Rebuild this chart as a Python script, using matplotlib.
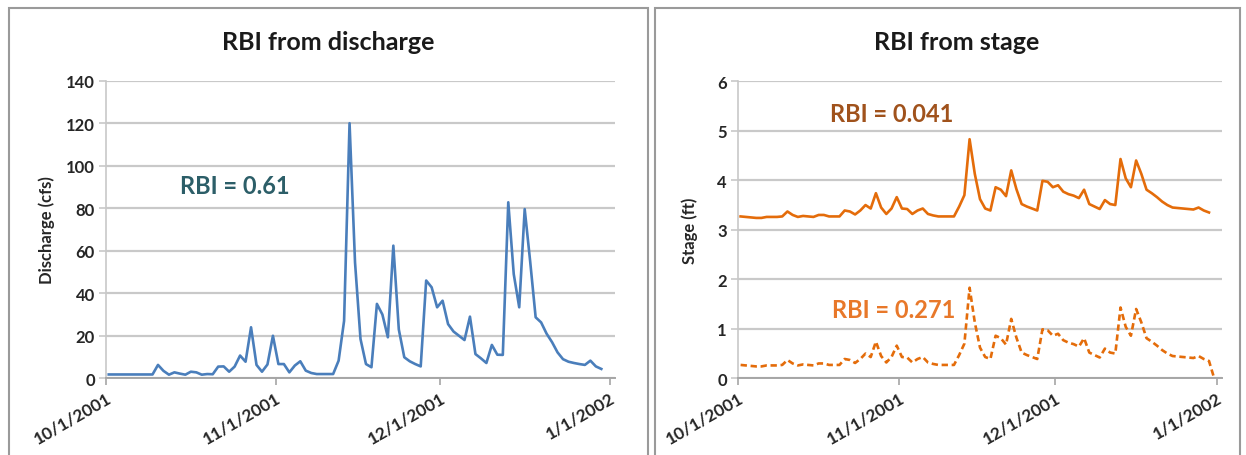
import datetime as dt
import matplotlib
matplotlib.use("Agg")
import matplotlib.pyplot as plt
import matplotlib.dates as mdates
from matplotlib.patches import Rectangle

plt.rcParams["font.family"] = ["Lato", "DejaVu Sans"]

# Daily values starting 10/1/2001
start_date = dt.date(2001, 10, 1)

discharge_cfs = [
    1.8, 1.8, 1.8, 1.8, 1.8, 1.8, 1.8, 1.8, 1.8, 6.3,
    3.5, 1.7, 2.8, 2.2, 1.7, 3.1, 2.8, 1.7, 2.0, 1.9,
    5.5, 5.6, 3.1, 5.5, 10.7, 7.8, 24.0, 6.3, 3.1, 6.5,
    20.0, 6.7, 6.7, 2.8, 6.0, 8.0, 3.6, 2.5, 2.0, 2.0,
    2.0, 2.0, 8.3, 27.0, 120.0, 54.5, 18.5, 6.7, 5.2, 35.0,
    30.0, 19.3, 62.4, 23.0, 9.9, 8.0, 6.7, 5.6, 46.0, 42.8,
    33.4, 36.5, 25.5, 22.0, 20.0, 18.0, 29.0, 11.4, 9.4, 7.2,
    15.7, 11.1, 11.0, 82.8, 49.0, 33.4, 79.6, 55.0, 28.7, 26.3,
    21.0, 17.0, 12.2, 9.0, 7.8, 7.2, 6.7, 6.3, 8.3, 5.6,
    4.4,
]

stage_ft = [
    3.27, 3.26, 3.25, 3.24, 3.24, 3.26, 3.26, 3.26, 3.27, 3.37,
    3.30, 3.26, 3.28, 3.27, 3.26, 3.30, 3.30, 3.27, 3.27, 3.27,
    3.39, 3.37, 3.31, 3.39, 3.50, 3.43, 3.74, 3.45, 3.32, 3.43,
    3.66, 3.43, 3.42, 3.32, 3.39, 3.43, 3.32, 3.29, 3.27, 3.27,
    3.27, 3.27, 3.47, 3.70, 4.83, 4.13, 3.62, 3.43, 3.39, 3.86,
    3.81, 3.68, 4.20, 3.82, 3.52, 3.47, 3.43, 3.39, 3.99, 3.97,
    3.86, 3.90, 3.77, 3.72, 3.69, 3.64, 3.81, 3.52, 3.47, 3.42,
    3.60, 3.52, 3.50, 4.43, 4.04, 3.86, 4.40, 4.13, 3.81, 3.74,
    3.66, 3.57, 3.50, 3.45, 3.44, 3.43, 3.42, 3.41, 3.45, 3.39,
    3.35,
]

# Stage above a 3 ft datum (last day missing -> 0)
stage_above_datum_ft = [
    0.27, 0.26, 0.25, 0.24, 0.24, 0.26, 0.26, 0.26, 0.27, 0.37,
    0.30, 0.26, 0.28, 0.27, 0.26, 0.30, 0.30, 0.27, 0.27, 0.27,
    0.39, 0.37, 0.31, 0.39, 0.50, 0.43, 0.74, 0.45, 0.32, 0.43,
    0.66, 0.43, 0.42, 0.32, 0.39, 0.43, 0.32, 0.29, 0.27, 0.27,
    0.27, 0.27, 0.47, 0.70, 1.83, 1.13, 0.62, 0.43, 0.39, 0.86,
    0.81, 0.68, 1.20, 0.82, 0.52, 0.47, 0.43, 0.39, 0.99, 0.97,
    0.86, 0.90, 0.77, 0.72, 0.69, 0.64, 0.81, 0.52, 0.47, 0.42,
    0.60, 0.52, 0.50, 1.43, 1.04, 0.86, 1.40, 1.13, 0.81, 0.74,
    0.66, 0.57, 0.50, 0.45, 0.44, 0.43, 0.42, 0.41, 0.45, 0.39,
    0.35, 0.0,
]

tick_dates = [dt.date(2001, 10, 1), dt.date(2001, 11, 1),
              dt.date(2001, 12, 1), dt.date(2002, 1, 1)]
tick_labels = ["10/1/2001", "11/1/2001", "12/1/2001", "1/1/2002"]

discharge_ticks = [0, 20, 40, 60, 80, 100, 120, 140]
stage_ticks = [0, 1, 2, 3, 4, 5, 6]

BLUE = "#4a7ebb"
ORANGE = "#e46c0a"
TEXT = "#262626"
GRID = "#c9c9c9"

W, H = 1246, 456
fig = plt.figure(figsize=(W / 100, H / 100), dpi=100)
fig.patch.set_facecolor("white")


def fx(px):
    return px / W


def fy(py):
    return 1 - py / H


def day_positions(n):
    base = mdates.date2num(start_date)
    return [base + i + 0.5 for i in range(n)]


def style_axes(ax, ticks, ylabel, ymax, labelpad):
    ax.set_ylim(0, ymax)
    ax.set_yticks(ticks)
    ax.set_xlim(mdates.date2num(start_date), mdates.date2num(dt.date(2002, 1, 2)))
    ax.set_xticks([mdates.date2num(d) for d in tick_dates])
    ax.set_xticklabels(tick_labels, rotation=30, ha="right", va="top",
                       rotation_mode="anchor", fontsize=12.5,
                       fontweight="bold", color=TEXT)
    for lbl in ax.get_yticklabels():
        lbl.set_fontsize(12)
        lbl.set_fontweight("bold")
        lbl.set_color(TEXT)
    ax.grid(axis="y", color=GRID, linewidth=1.6)
    ax.set_axisbelow(True)
    for s in ("top", "right"):
        ax.spines[s].set_visible(False)
    ax.spines["left"].set_color("#c8c8c8")
    ax.spines["left"].set_linewidth(1.2)
    ax.spines["bottom"].set_color("#a6a6a6")
    ax.spines["bottom"].set_linewidth(1.4)
    ax.tick_params(axis="y", length=5, width=1.2, color="#c8c8c8", pad=3)
    ax.tick_params(axis="x", length=5, width=1.2, color="#a6a6a6", pad=3)
    ax.set_ylabel(ylabel, fontsize=12, fontweight="bold", color=TEXT,
                  labelpad=labelpad)


# Panel frames
for x0, x1 in ((9, 648), (655, 1240)):
    fig.add_artist(Rectangle((fx(x0), fy(470)), fx(x1) - fx(x0), fy(9) - fy(470),
                             transform=fig.transFigure, facecolor="none",
                             edgecolor="#9a9a9a", linewidth=1.5))

# Discharge panel
ax1 = fig.add_axes([fx(106), fy(379.3), fx(615) - fx(106), fy(81.7) - fy(379.3)])
ax1.plot(day_positions(len(discharge_cfs)), discharge_cfs, color=BLUE,
         linewidth=1.9, solid_joinstyle="round")
style_axes(ax1, discharge_ticks, "Discharge (cfs)", 140, 8)
fig.text(fx(235), fy(186), "RBI = 0.61", ha="center", va="center",
         fontsize=17, fontweight="bold", color="#2c5e68")
fig.text(fx(328), fy(42), "RBI from discharge", ha="center", va="center",
         fontsize=18, fontweight="bold", color="#1a1a1a")

# Stage panel
ax2 = fig.add_axes([fx(738), fy(379.3), fx(1222) - fx(738), fy(82.3) - fy(379.3)])
ax2.plot(day_positions(len(stage_ft)), stage_ft, color=ORANGE,
         linewidth=1.9, solid_joinstyle="round")
ax2.plot(day_positions(len(stage_above_datum_ft)), stage_above_datum_ft,
         color=ORANGE, linewidth=1.9, linestyle=(0, (2.4, 1.4)))
style_axes(ax2, stage_ticks, "Stage (ft)", 6, 14)
fig.text(fx(892), fy(115), "RBI = 0.041", ha="center", va="center",
         fontsize=17, fontweight="bold", color="#a0521c")
fig.text(fx(894), fy(310), "RBI = 0.271", ha="center", va="center",
         fontsize=17, fontweight="bold", color="#e8782a")
fig.text(fx(957), fy(42), "RBI from stage", ha="center", va="center",
         fontsize=18, fontweight="bold", color="#1a1a1a")

fig.savefig("out.png", dpi=100)
